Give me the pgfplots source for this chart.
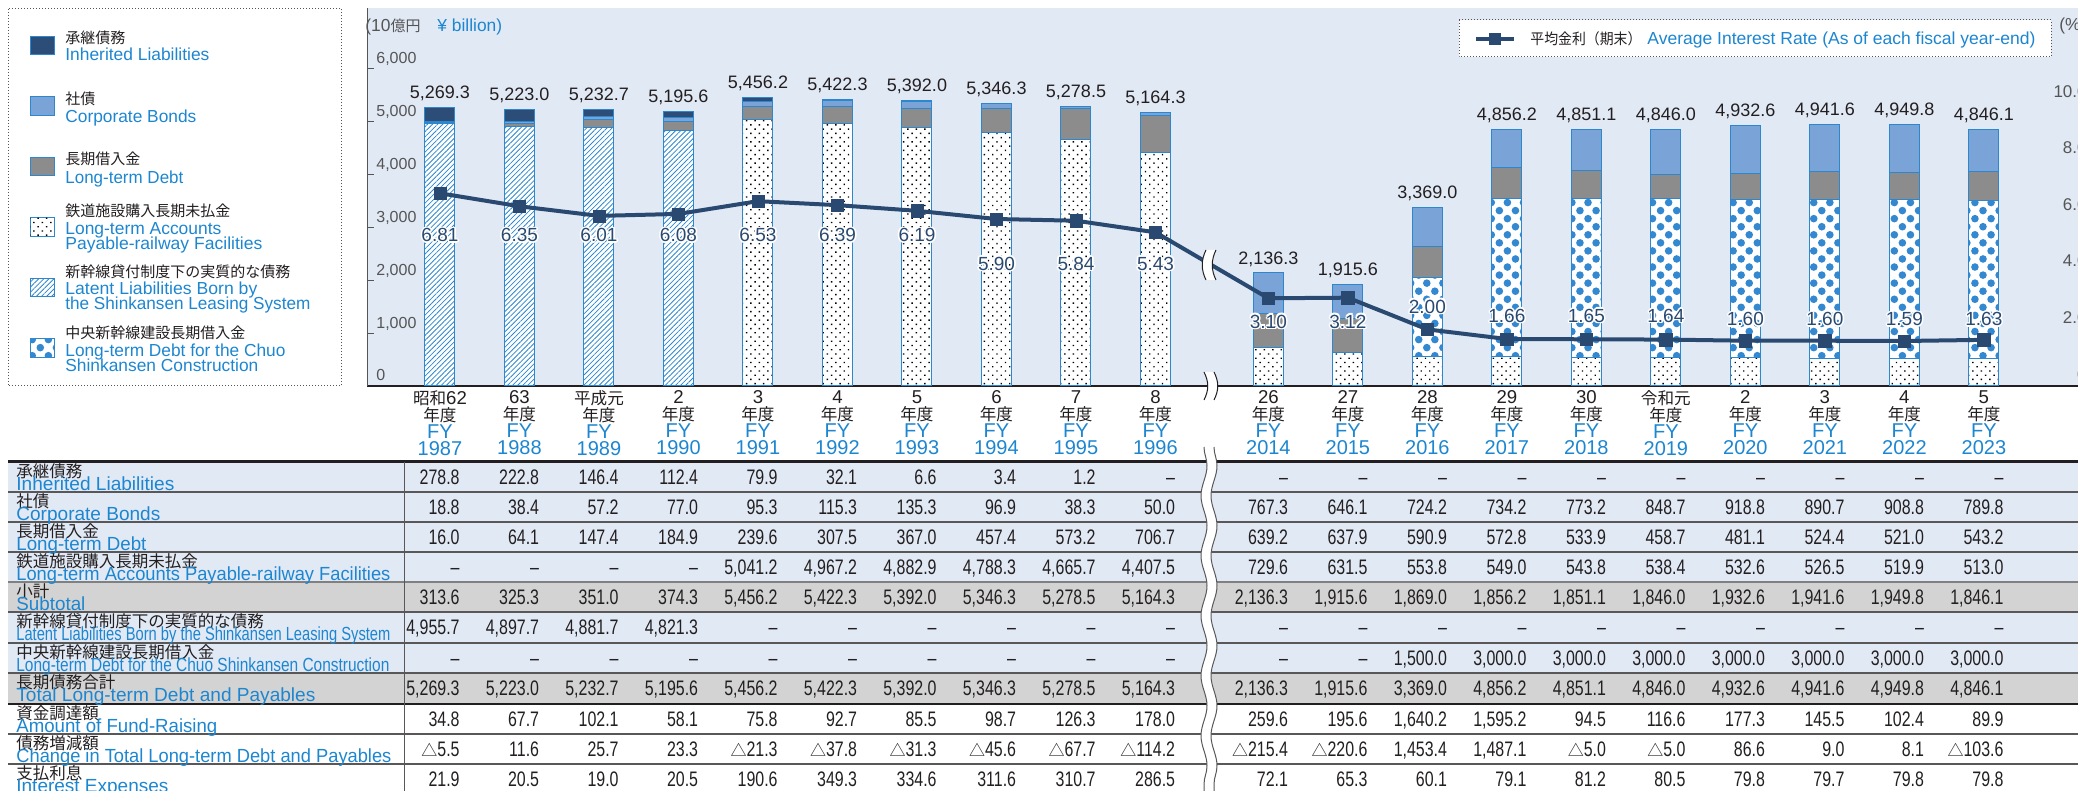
\documentclass[border=0pt]{standalone}
\usepackage{pgfplots}
\pgfplotsset{compat=1.18}
\usepackage{pgfplotstable}
\usepackage{graphicx}
\usepackage{fontspec}
\usetikzlibrary{patterns.meta,decorations.pathmorphing}
\setmainfont{Liberation Sans}
\newfontfamily\cjk{Noto Sans CJK JP}
\newfontfamily\cond[FakeStretch=0.76]{Liberation Sans}

\definecolor{bgblue}{RGB}{225,233,245}
\definecolor{navyb}{RGB}{44,77,120}
\definecolor{linenavy}{RGB}{42,73,112}
\definecolor{bondb}{RGB}{122,164,216}
\definecolor{debtg}{RGB}{140,140,140}
\definecolor{barblue}{RGB}{45,135,205}
\definecolor{chuob}{RGB}{52,136,208}
\definecolor{tblue}{RGB}{28,134,208}
\definecolor{dk}{RGB}{35,31,32}
\definecolor{tickgray}{RGB}{85,85,85}
\definecolor{rowgray}{RGB}{211,211,211}

\newcommand\J[1]{{\cjk\fontsize{8.3}{8.5}\selectfont #1}}
\newcommand\B[1]{{\color{tblue}\fontsize{10}{8.5}\selectfont #1}}
\newcommand\xl[2]{#1\\\J{年度}\\\B{FY}\\\B{#2}}
\newcommand\hl[3]{\rlap{\kern#1\raise#2\hbox{\color{white}#3}}}
\newcommand\halo[1]{\hl{-0.8pt}{0pt}{#1}\hl{0.8pt}{0pt}{#1}\hl{0pt}{0.8pt}{#1}\hl{0pt}{-0.8pt}{#1}\hl{-0.55pt}{0.55pt}{#1}\hl{0.55pt}{0.55pt}{#1}\hl{-0.55pt}{-0.55pt}{#1}\hl{0.55pt}{-0.55pt}{#1}#1}
\newcommand\tri{{\cjk\fontsize{8}{8}\selectfont △}}
\newcommand\tnum{\cond\fontsize{10.5}{10.5}\selectfont}
\newcommand\trow[2]{\foreach \v [count=\i from 0] in {#2}{\pgfmathsetmacro\xx{460+79.5*(\i+0.42*(\i>9))}\node[anchor=base east,inner sep=0pt,font=\tnum,text=dk] at (\xx,#1+7.5) {\v};}}
\newcommand\tlab[4]{%
 \node[anchor=base west,inner sep=0pt,text=dk,font=\cjk\fontsize{8.25}{8.25}\selectfont] at (16,#1+15.3) {#2};
 \node[anchor=base west,inner sep=0pt,text=tblue,font=\fontsize{9.5}{9.5}\selectfont] at (16,#1+28.8) {\resizebox{#3}{\height}{#4}};}
\newcommand\lgj[2]{\node[anchor=base west,inner sep=0pt,text=dk,font=\cjk\fontsize{7.5}{7.5}\selectfont] at (65,#1+5.7) {#2};}
\newcommand\lge[3]{\node[anchor=base west,inner sep=0pt,text=tblue,font=\fontsize{8.7}{8.7}\selectfont] at (65,#1+6.2) {\resizebox{#2}{\height}{#3}};}

\pgfplotstableread{
x inh bond debt rail lat chuo rate tot lab
0 278.8 18.8 16.0 0 4955.7 0 6.81 5269.3 5,269.3
1 222.8 38.4 64.1 0 4897.7 0 6.35 5223.0 5,223.0
2 146.4 57.2 147.4 0 4881.7 0 6.01 5232.7 5,232.7
3 112.4 77.0 184.9 0 4821.3 0 6.08 5195.6 5,195.6
4 79.9 95.3 239.6 5041.2 0 0 6.53 5456.2 5,456.2
5 32.1 115.3 307.5 4967.2 0 0 6.39 5422.3 5,422.3
6 6.6 135.3 367.0 4882.9 0 0 6.19 5392.0 5,392.0
7 3.4 96.9 457.4 4788.3 0 0 5.90 5346.3 5,346.3
8 1.2 38.3 573.2 4665.7 0 0 5.84 5278.5 5,278.5
9 0 50.0 706.7 4407.5 0 0 5.43 5164.3 5,164.3
10.42 0 767.3 639.2 729.6 0 0 3.10 2136.3 2,136.3
11.42 0 646.1 637.9 631.5 0 0 3.12 1915.6 1,915.6
12.42 0 724.2 590.9 553.8 0 1500 2.00 3369.0 3,369.0
13.42 0 734.2 572.8 549.0 0 3000 1.66 4856.2 4,856.2
14.42 0 773.2 533.9 543.8 0 3000 1.65 4851.1 4,851.1
15.42 0 848.7 458.7 538.4 0 3000 1.64 4846.0 4,846.0
16.42 0 918.8 481.1 532.6 0 3000 1.60 4932.6 4,932.6
17.42 0 890.7 524.4 526.5 0 3000 1.60 4941.6 4,941.6
18.42 0 908.8 521.0 519.9 0 3000 1.59 4949.8 4,949.8
19.42 0 789.8 543.2 513.0 0 3000 1.63 4846.1 4,846.1
}\data

\pgfplotstableread{
x ly rl
0 5.085 6.81
1 5.085 6.35
2 5.085 6.01
3 5.085 6.08
4 5.085 6.53
5 5.085 6.39
6 5.085 6.19
7 4.071 5.90
8 4.071 5.84
9 4.071 5.43
10.42 2.032 3.10
11.42 2.032 3.12
12.42 2.562 2.00
13.42 2.233 1.66
14.42 2.233 1.65
15.42 2.233 1.64
16.42 2.117 1.60
17.42 2.117 1.60
18.42 2.117 1.59
19.42 2.117 1.63
}\rlab

\pgfplotsset{mybase/.style={at={(183.5pt,202.5pt)},anchor=south west,scale only axis,width=855.5pt,height=189pt,xmin=-0.918,xmax=20.604,clip=false}}

\begin{document}
\begin{tikzpicture}
\begin{axis}[mybase,ymin=0,ymax=7145.6,ybar stacked,bar width=15pt,
 axis background/.style={fill=bgblue},
 axis x line*=bottom,axis y line*=left,
 x axis line style={draw=dk,line width=0.9pt},
 y axis line style={draw=tickgray,line width=0.5pt},
 xtick={0,1,2,3,4,5,6,7,8,9,10.42,11.42,12.42,13.42,14.42,15.42,16.42,17.42,18.42,19.42},
 xticklabels={{\xl{\J{昭和}62}{1987}},{\xl{63}{1988}},{\xl{\J{平成元}}{1989}},{\xl{2}{1990}},{\xl{3}{1991}},{\xl{4}{1992}},{\xl{5}{1993}},{\xl{6}{1994}},{\xl{7}{1995}},{\xl{8}{1996}},{\xl{26}{2014}},{\xl{27}{2015}},{\xl{28}{2016}},{\xl{29}{2017}},{\xl{30}{2018}},{\xl{\J{令和元}}{2019}},{\xl{2}{2020}},{\xl{3}{2021}},{\xl{4}{2022}},{\xl{5}{2023}}},
 xtick style={draw=none},
 xticklabel style={align=center,anchor=north,inner sep=0pt,yshift=-2.25pt,font=\fontsize{9.3}{8.5}\selectfont,text=dk},
 ytick={0,1000,...,6000},
 ytick style={draw=tickgray,line width=0.5pt},
 major tick length=3.5pt,tick align=inside,
 yticklabel style={anchor=base west,inner sep=0pt,xshift=4.5pt,yshift=2.5pt,font=\fontsize{8}{8}\selectfont,text=tickgray,/pgf/number format/1000 sep={,},/pgf/number format/assume math mode=true},
]
\addplot[fill=white,draw=barblue,line width=0.5pt,postaction={pattern={Dots[radius=0.5pt,distance=3pt,angle=45]},pattern color=black}] table[x=x,y=rail]{\data};
\addplot[fill=white,draw=barblue,line width=0.5pt,postaction={pattern={Lines[angle=45,distance=1.8pt,line width=0.4pt]},pattern color=barblue}] table[x=x,y=lat]{\data};
\addplot[fill=white,draw=barblue,line width=0.5pt,postaction={pattern={Dots[radius=1.9pt,distance=5.7pt,angle=45]},pattern color=chuob}] table[x=x,y=chuo]{\data};
\addplot[fill=debtg,draw=barblue,line width=0.5pt] table[x=x,y=debt]{\data};
\addplot[fill=bondb,draw=barblue,line width=0.5pt] table[x=x,y=bond]{\data};
\addplot[fill=navyb,draw=barblue,line width=0.5pt] table[x=x,y=inh]{\data};
\end{axis}

\begin{axis}[mybase,ymin=0,ymax=7145.6,hide axis]
\addplot[draw=none,mark=none,nodes near coords,point meta=explicit symbolic,
 every node near coord/.append style={anchor=south,inner sep=0pt,text depth=0pt,yshift=4.25pt,font=\fontsize{9}{9}\selectfont,text=dk}]
 table[x=x,y=tot,meta=lab]{\data};
\end{axis}

\begin{axis}[mybase,ymin=0,ymax=13.357,axis x line=none,axis y line*=right,
 y axis line style={draw=none},xtick=\empty,
 ytick={0,2,4,6,8,10},yticklabels={0,2.0,4.0,6.0,8.0,10.0},ytick style={draw=none},
 yticklabel style={anchor=base east,inner sep=0pt,xshift=4.5pt,yshift=2.9pt,font=\fontsize{8.5}{8.5}\selectfont,text=tickgray}]
\addplot[linenavy,line width=2pt,mark=square*,mark size=3.1pt,mark options={solid,fill=linenavy,draw=linenavy,line width=0.2pt}] table[x=x,y=rate]{\data};
\addplot[draw=none,mark=none,nodes near coords={\halo{\pgfplotspointmeta}},point meta=explicit symbolic,
 every node near coord/.append style={anchor=south,inner sep=0pt,text depth=0pt,font=\fontsize{9.5}{9.5}\selectfont,text=linenavy}]
 table[x=x,y=ly,meta=rl]{\rlab};
\end{axis}

\begin{scope}[x=0.5pt,y=-0.5pt,shift={(0pt,395.5pt)}]
% unit labels
\node[anchor=base west,inner sep=0pt,text=tickgray,font=\fontsize{8.7}{8.7}\selectfont] at (365,32) {(10{\cjk\fontsize{7.5}{7.5}\selectfont 億円}};
\node[anchor=base west,inner sep=0pt,text=tblue,font=\fontsize{8.7}{8.7}\selectfont] at (437,32) {¥ billion)};
\node[anchor=base west,inner sep=0pt,text=tickgray,font=\fontsize{8.7}{8.7}\selectfont] at (2059,31) {(\%)};
% break marks in chart
\fill[white] (1206,250) .. controls (1201,260) and (1201,270) .. (1206,280) -- (1216,280) .. controls (1211,270) and (1211,260) .. (1216,250) -- cycle;
\draw[dk,line width=0.5pt] (1206,250) .. controls (1201,260) and (1201,270) .. (1206,280);
\draw[dk,line width=0.5pt] (1216,250) .. controls (1211,260) and (1211,270) .. (1216,280);
\fill[white] (1204,372) .. controls (1209,382) and (1209,390) .. (1204,400) -- (1214,400) .. controls (1219,390) and (1219,382) .. (1214,372) -- cycle;
\draw[dk,line width=0.5pt] (1204,372) .. controls (1209,382) and (1209,390) .. (1204,400);
\draw[dk,line width=0.5pt] (1214,372) .. controls (1219,382) and (1219,390) .. (1214,400);
% legend box left
\draw[tickgray,line width=0.5pt,dash pattern=on 0.5pt off 1pt] (8,9) rectangle (341.5,386);
\filldraw[fill=navyb,draw=barblue,line width=0.5pt] (30,37) rectangle (54,55);
\filldraw[fill=bondb,draw=barblue,line width=0.5pt] (30,97) rectangle (54,116);
\filldraw[fill=debtg,draw=barblue,line width=0.5pt] (30,158) rectangle (54,176);
\filldraw[fill=white,draw=barblue,line width=0.5pt,postaction={pattern={Dots[radius=0.5pt,distance=3pt,angle=45]},pattern color=black}] (30,218) rectangle (54,237);
\filldraw[fill=white,draw=barblue,line width=0.5pt,postaction={pattern={Lines[angle=45,distance=1.8pt,line width=0.4pt]},pattern color=barblue}] (30,279) rectangle (54,297);
\filldraw[fill=white,draw=barblue,line width=0.5pt,postaction={pattern={Dots[radius=1.9pt,distance=5.7pt,angle=45]},pattern color=chuob}] (30,339) rectangle (54,358);
\lgj{38}{承継債務}\lge{54}{72pt}{Inherited Liabilities}
\lgj{99}{社債}\lge{116}{65.5pt}{Corporate Bonds}
\lgj{159}{長期借入金}\lge{177}{59pt}{Long-term Debt}
\lgj{211}{鉄道施設購入長期未払金}\lge{228}{78pt}{Long-term Accounts}\lge{243}{98.5pt}{Payable-railway Facilities}
\lgj{272}{新幹線貸付制度下の実質的な債務}\lge{288}{96pt}{Latent Liabilities Born by}\lge{303}{122.5pt}{the Shinkansen Leasing System}
\lgj{333}{中央新幹線建設長期借入金}\lge{350}{110pt}{Long-term Debt for the Chuo}\lge{365}{96.5pt}{Shinkansen Construction}
% legend right
\filldraw[fill=white,draw=tickgray,line width=0.5pt,dash pattern=on 0.5pt off 1pt] (1459,20) rectangle (2051,57);
\draw[linenavy,line width=2pt] (1476,39) -- (1514,39);
\fill[linenavy] (1489,33) rectangle (1501,45);
\node[anchor=base west,inner sep=0pt,text=dk] at (1530,45) {\resizebox{55.5pt}{\height}{\cjk\fontsize{7.5}{7.5}\selectfont 平均金利（期末）}};
\node[anchor=base west,inner sep=0pt,text=tblue] at (1647,45) {\resizebox{194pt}{\height}{\fontsize{8.7}{8.7}\selectfont Average Interest Rate (As of each fiscal year-end)}};
% table backgrounds
\fill[bgblue] (8,462) rectangle (2078,582);
\fill[rowgray] (8,582) rectangle (2078,612);
\fill[bgblue] (8,612) rectangle (2078,673);
\fill[rowgray] (8,673) rectangle (2078,704);
\foreach \yy in {492,522,552,612,643,673,734,764} \draw[dk!75,line width=0.55pt] (8,\yy)--(2078,\yy);
\draw[gray,line width=0.9pt] (8,582)--(2078,582);
\draw[dk,line width=1.5pt] (8,462)--(2078,462);
\draw[dk,line width=1.25pt] (8,704)--(2078,704);
\draw[dk!75,line width=0.5pt] (404,462)--(404,800);
% table labels
\tlab{462}{承継債務}{79pt}{Inherited Liabilities}
\tlab{492}{社債}{72pt}{Corporate Bonds}
\tlab{522}{長期借入金}{65pt}{Long-term Debt}
\tlab{552}{鉄道施設購入長期未払金}{187pt}{Long-term Accounts Payable-railway Facilities}
\tlab{582}{小計}{34.5pt}{Subtotal}
\tlab{612}{新幹線貸付制度下の実質的な債務}{187pt}{Latent Liabilities Born by the Shinkansen Leasing System}
\tlab{643}{中央新幹線建設長期借入金}{186.5pt}{Long-term Debt for the Chuo Shinkansen Construction}
\tlab{673}{長期債務合計}{149.5pt}{Total Long-term Debt and Payables}
\tlab{704}{資金調達額}{100.5pt}{Amount of Fund-Raising}
\tlab{734}{債務増減額}{187.5pt}{Change in Total Long-term Debt and Payables}
\tlab{764}{支払利息}{76pt}{Interest Expenses}
% table numbers
\trow{477}{278.8,222.8,146.4,112.4,79.9,32.1,6.6,3.4,1.2,–,–,–,–,–,–,–,–,–,–,–}
\trow{507}{18.8,38.4,57.2,77.0,95.3,115.3,135.3,96.9,38.3,50.0,767.3,646.1,724.2,734.2,773.2,848.7,918.8,890.7,908.8,789.8}
\trow{537}{16.0,64.1,147.4,184.9,239.6,307.5,367.0,457.4,573.2,706.7,639.2,637.9,590.9,572.8,533.9,458.7,481.1,524.4,521.0,543.2}
\trow{567}{–,–,–,–,{5,041.2},{4,967.2},{4,882.9},{4,788.3},{4,665.7},{4,407.5},729.6,631.5,553.8,549.0,543.8,538.4,532.6,526.5,519.9,513.0}
\trow{597}{313.6,325.3,351.0,374.3,{5,456.2},{5,422.3},{5,392.0},{5,346.3},{5,278.5},{5,164.3},{2,136.3},{1,915.6},{1,869.0},{1,856.2},{1,851.1},{1,846.0},{1,932.6},{1,941.6},{1,949.8},{1,846.1}}
\trow{627.5}{{4,955.7},{4,897.7},{4,881.7},{4,821.3},–,–,–,–,–,–,–,–,–,–,–,–,–,–,–,–}
\trow{658}{–,–,–,–,–,–,–,–,–,–,–,–,{1,500.0},{3,000.0},{3,000.0},{3,000.0},{3,000.0},{3,000.0},{3,000.0},{3,000.0}}
\trow{688.5}{{5,269.3},{5,223.0},{5,232.7},{5,195.6},{5,456.2},{5,422.3},{5,392.0},{5,346.3},{5,278.5},{5,164.3},{2,136.3},{1,915.6},{3,369.0},{4,856.2},{4,851.1},{4,846.0},{4,932.6},{4,941.6},{4,949.8},{4,846.1}}
\trow{719}{34.8,67.7,102.1,58.1,75.8,92.7,85.5,98.7,126.3,178.0,259.6,195.6,{1,640.2},{1,595.2},94.5,116.6,177.3,145.5,102.4,89.9}
\trow{749}{\tri5.5,11.6,25.7,23.3,\tri21.3,\tri37.8,\tri31.3,\tri45.6,\tri67.7,\tri114.2,\tri215.4,\tri220.6,{1,453.4},{1,487.1},\tri5.0,\tri5.0,86.6,9.0,8.1,\tri103.6}
\trow{779}{21.9,20.5,19.0,20.5,190.6,349.3,334.6,311.6,310.7,286.5,72.1,65.3,60.1,79.1,81.2,80.5,79.8,79.7,79.8,79.8}
% table break wave
\draw[white,line width=5pt,decorate,decoration={snake,amplitude=1.5pt,segment length=30pt}] (1209,447)--(1209,810);
\draw[dk!75,line width=0.5pt,decorate,decoration={snake,amplitude=1.5pt,segment length=30pt}] (1204,447)--(1204,810);
\draw[dk!75,line width=0.5pt,decorate,decoration={snake,amplitude=1.5pt,segment length=30pt}] (1214,447)--(1214,810);
\end{scope}
\pgfresetboundingbox
\path[use as bounding box] (0,0) rectangle (1039pt,395.5pt);
\end{tikzpicture}
\end{document}
